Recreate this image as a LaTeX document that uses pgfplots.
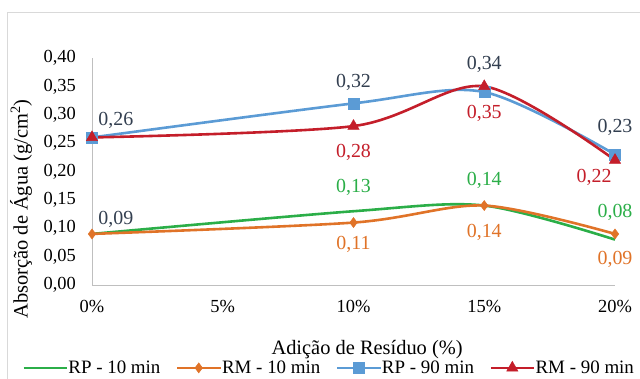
\documentclass[border=0pt]{standalone}
\usepackage{fontspec}
\setmainfont{Liberation Serif}
\usepackage{pgfplots}
\usepackage{pgfplotstable}
\pgfplotsset{compat=1.18}

\definecolor{cgreen}{HTML}{2BAE48}
\definecolor{corange}{HTML}{E07328}
\definecolor{cblue}{HTML}{5B9BD5}
\definecolor{cred}{HTML}{C41E2A}
\definecolor{clabel}{HTML}{333F50}
\definecolor{cframe}{HTML}{D9D9D9}
\definecolor{caxis}{HTML}{BFBFBF}

\newcommand{\tickfont}{\fontsize{18.5}{21}\selectfont}
\newcommand{\valfont}{\fontsize{20}{22}\selectfont}
\newcommand{\titlefont}{\fontsize{20.5}{23}\selectfont}
\newcommand{\legfont}{\fontsize{19}{21}\selectfont}

% x = residue addition (%), y = water absorption (g/cm2), dx/dy = label offset
\pgfplotstableread{
x  y     dx  dy
0  0.09  24  15
10 0.13  0   24
15 0.14  0   25
20 0.08  0   27
}\rpdez
\pgfplotstableread{
x  y     dx  dy
0  0.09  24  15
10 0.11  0  -22
15 0.14  0  -27
20 0.09  0  -26
}\rmdez
\pgfplotstableread{
x  y     dx  dy
0  0.26  24  17
10 0.32  0   21
15 0.34  0   28
20 0.23  0   27
}\rpnoventa
\pgfplotstableread{
x  y     dx  dy
0  0.26  24  17
10 0.28  0  -26
15 0.35  0  -27
20 0.22 -21 -17
}\rmnoventa

\pgfplotsset{
  vallabel/.style={
    only marks, mark=none, forget plot, point meta=y,
    visualization depends on={\thisrow{dx} \as \dx},
    visualization depends on={\thisrow{dy} \as \dy},
    nodes near coords={\pgfmathprintnumber[fixed,fixed zerofill,precision=2,use comma,assume math mode=true]{\pgfplotspointmeta}},
    nodes near coords style={anchor=center, inner sep=0pt, xshift=\dx, yshift=\dy, text=#1, font=\valfont}
  }
}

\begin{document}
\begin{tikzpicture}
\path[use as bounding box] (0,0) rectangle (640bp,379bp);
\draw[cframe, line width=0.8pt] (7bp,0) -- (7bp,367bp) -- (640bp,367bp);
\begin{axis}[
  scale only axis,
  width=523bp, height=227bp,
  at={(92bp,94bp)}, anchor=south west,
  xmin=0, xmax=20, ymin=0, ymax=0.40,
  clip=false,
  axis lines=left,
  axis line style={-, draw=caxis, line width=0.9pt},
  major tick length=0pt,
  xtick={0,5,10,15,20},
  xticklabels={0\%,5\%,10\%,15\%,20\%},
  ytick={0,0.05,0.10,0.15,0.20,0.25,0.30,0.35,0.40},
  /pgf/number format/assume math mode=true,
  tick label style={font=\tickfont, text=black},
  yticklabel style={/pgf/number format/fixed, /pgf/number format/fixed zerofill,
    /pgf/number format/precision=2, /pgf/number format/use comma,
    inner sep=0pt, anchor=east, xshift=-16bp},
  xticklabel style={inner sep=0pt, anchor=north, yshift=-15bp},
  xlabel={Adição de Resíduo (\%)},
  xlabel style={font=\titlefont, at={(axis description cs:0.526,0)}, anchor=base, yshift=-69bp},
  ylabel={Absorção de Água (g/cm\textsuperscript{2})},
  ylabel style={font=\titlefont, at={(axis description cs:-0.1358,0.335)}, anchor=center},
  legend columns=4,
  legend style={draw=none, fill=none, font=\legfont,
    at={(axis description cs:0.452,-0.365)}, anchor=center,
    nodes={inner sep=0.5bp},
    /tikz/every odd column/.append style={column sep=0bp},
    /tikz/every even column/.append style={column sep=15bp}},
  legend image code/.code={\draw[mark repeat=2,mark phase=2,#1] plot coordinates {(0bp,0bp) (21.5bp,0bp) (43bp,0bp)};},
  every axis plot/.append style={line width=2.6bp},
]
\addplot[cgreen, smooth, tension=0.5, mark=none] table[x=x,y=y] {\rpdez};
\addlegendentry{RP - 10 min}
\addplot[corange, smooth, tension=0.5, mark=diamond*, mark size=5bp, mark options={solid, line width=0.5pt, fill=corange}] table[x=x,y=y] {\rmdez};
\addlegendentry{RM - 10 min}
\addplot[cblue, smooth, tension=0.5, mark=square*, mark size=5.5bp, mark options={solid, line width=0.5pt, fill=cblue}] table[x=x,y=y] {\rpnoventa};
\addlegendentry{RP - 90 min}
\addplot[cred, smooth, tension=0.5, mark=triangle*, mark size=6.5bp, mark options={solid, line width=0.5pt, fill=cred}] table[x=x,y=y] {\rmnoventa};
\addlegendentry{RM - 90 min}

% value labels
\addplot[vallabel=cgreen, restrict x to domain=5:25] table[x=x,y=y] {\rpdez};
\addplot[vallabel=corange, restrict x to domain=5:25] table[x=x,y=y] {\rmdez};
\addplot[vallabel=clabel, restrict x to domain=5:25] table[x=x,y=y] {\rpnoventa};
\addplot[vallabel=cred, restrict x to domain=5:25] table[x=x,y=y] {\rmnoventa};
\addplot[vallabel=clabel, restrict x to domain=-1:1] table[x=x,y=y] {\rpdez};
\addplot[vallabel=clabel, restrict x to domain=-1:1] table[x=x,y=y] {\rpnoventa};
\end{axis}
\end{tikzpicture}
\end{document}
